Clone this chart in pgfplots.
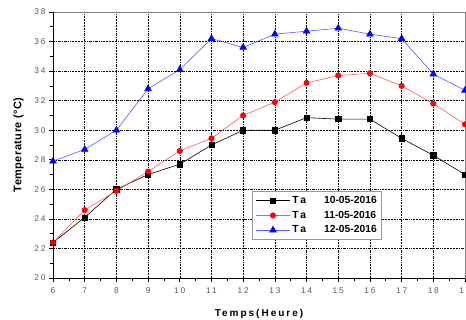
\documentclass[border=0pt]{standalone}
\usepackage{fontspec}
\setmainfont{Liberation Sans}
\newfontfamily\tickfont[LetterSpace=22]{Liberation Sans}
\newfontfamily\labfont[LetterSpace=20]{Liberation Sans}
\newfontfamily\ylabfont[LetterSpace=4]{Liberation Sans}
\usepackage{pgfplots}
\pgfplotsset{compat=1.18}
\definecolor{tickc}{RGB}{95,85,75}
\definecolor{redl}{RGB}{255,90,90}
\definecolor{bluel}{RGB}{90,90,255}
\begin{document}
\begin{tikzpicture}
\begin{axis}[
  scale only axis, width=412pt, height=266pt,
  xmin=6, xmax=19, ymin=20, ymax=38,
  xtick={6,...,19}, ytick={20,22,...,38},
  minor x tick num=1, minor y tick num=1,
  xtick pos=left, ytick pos=left, tick align=outside,
  major tick length=4pt, minor tick length=3pt,
  tick style={black, line width=0.6pt},
  /pgf/number format/assume math mode=true,
  ticklabel style={font=\tickfont\fontsize{8.3}{9}\selectfont, text=tickc},
  xticklabel style={yshift=-2pt},
  grid=major,
  major grid style={black, line width=0.45pt, dash pattern=on 2pt off 1pt on 0.6pt off 1pt on 0.6pt off 1pt},
  axis line style={gray, line width=0.6pt},
  xlabel={\labfont\bfseries Temps(Heure)},
  ylabel={\ylabfont\bfseries Temperature (°C)},
  xlabel style={font=\fontsize{10}{11}\selectfont, yshift=-9pt},
  ylabel style={font=\fontsize{11}{12}\selectfont, yshift=4pt},
  legend style={at={(axis cs:12.28,25.9)}, anchor=north west, draw=gray!80, line width=1.2pt,
    font=\fontsize{10.3}{11}\selectfont\bfseries, row sep=2pt, inner sep=3pt},
  legend cell align=left,
  legend image code/.code={\draw[#1,line width=0.6pt,mark repeat=2,mark phase=2] plot coordinates {(0cm,0cm) (0.6cm,0cm) (1.2cm,0cm)};},
]
\coordinate (bl) at (rel axis cs:0,0);
\coordinate (tr) at (rel axis cs:1,1);
\addplot[black, line width=0.6pt, mark=square*, mark size=2.6pt, mark options={solid,fill=black}] coordinates {
(6,22.4)(7,24.1)(8,26.0)(9,27.0)(10,27.7)(11,29.0)(12,30.0)(13,30.0)(14,30.85)(15,30.75)(16,30.75)(17,29.45)(18,28.3)(19,27.0)};
\addlegendentry{T\,a\hspace{18pt}10-05-2016}
\addplot[redl, line width=0.6pt, mark=*, mark size=2.7pt, mark options={red,fill=red}] coordinates {
(6,22.4)(7,24.6)(8,25.9)(9,27.2)(10,28.6)(11,29.45)(12,31.0)(13,31.9)(14,33.2)(15,33.7)(16,33.85)(17,33.0)(18,31.8)(19,30.4)};
\addlegendentry{T\,a\hspace{18pt}11-05-2016}
\addplot[bluel, line width=0.6pt, mark=triangle*, mark size=3.8pt, mark options={blue,fill=blue}] coordinates {
(6,27.9)(7,28.7)(8,30.0)(9,32.8)(10,34.1)(11,36.2)(12,35.6)(13,36.5)(14,36.7)(15,36.9)(16,36.5)(17,36.2)(18,33.8)(19,32.7)};
\addlegendentry{T\,a\hspace{18pt}12-05-2016}
\end{axis}
\draw[black, line width=0.9pt] (tr -| bl) -- (bl) -- (bl -| tr);
\pgfresetboundingbox
\path[use as bounding box] ([xshift=-53pt,yshift=-42pt]bl) rectangle ([xshift=1pt,yshift=12pt]tr);
\end{tikzpicture}
\end{document}
